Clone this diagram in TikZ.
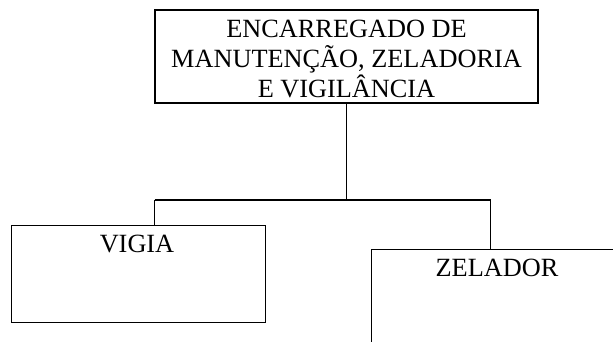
\documentclass[tikz,border=0pt]{standalone}
\usepackage{fontspec}
\setmainfont{Liberation Serif}
\begin{document}
\begin{tikzpicture}[x=1pt,y=1pt,
  box/.style={draw=black, line width=1.3pt, rectangle, inner sep=0pt},
  lbl/.style={font=\fontsize{26.3}{30.5}\selectfont, inner sep=0pt, anchor=base},
  conn/.style={draw=black, line width=1.3pt}]
\useasboundingbox (0,0) rectangle (613,-341);
\clip (0,0) rectangle (613,-341);
\node[box, minimum width=383pt, minimum height=93pt, align=center,
      font=\fontsize{26.3}{30}\selectfont, text depth=0pt] (top) at (346.5,-56.5) {};
\node[align=center, inner sep=0pt, font=\fontsize{26.3}{30}\selectfont, text depth=0pt]
  (topt) at (346.5,-58.5) {ENCARREGADO DE\\MANUTENÇÃO, ZELADORIA\\E VIGILÂNCIA};
\node[box, minimum width=254pt, minimum height=97pt, anchor=north west] (vigia) at (11,-225) {};
\node[lbl] (vigiat) at (137,-252.7) {VIGIA};
\node[box, minimum width=270pt, minimum height=130pt, anchor=north west] (zelador) at (371,-249) {};
\node[lbl] (zeladort) at (497,-276.7) {ZELADOR};
\coordinate (jl) at (154.5,-200);
\coordinate (jr) at (490.7,-200);
\draw[conn] (top.south) -- (top.south |- jl);
\draw[conn] (jl) -- (jr);
\draw[conn] (jl) -- (jl |- vigia.north);
\draw[conn] (jr) -- (jr |- zelador.north);
\end{tikzpicture}
\end{document}
